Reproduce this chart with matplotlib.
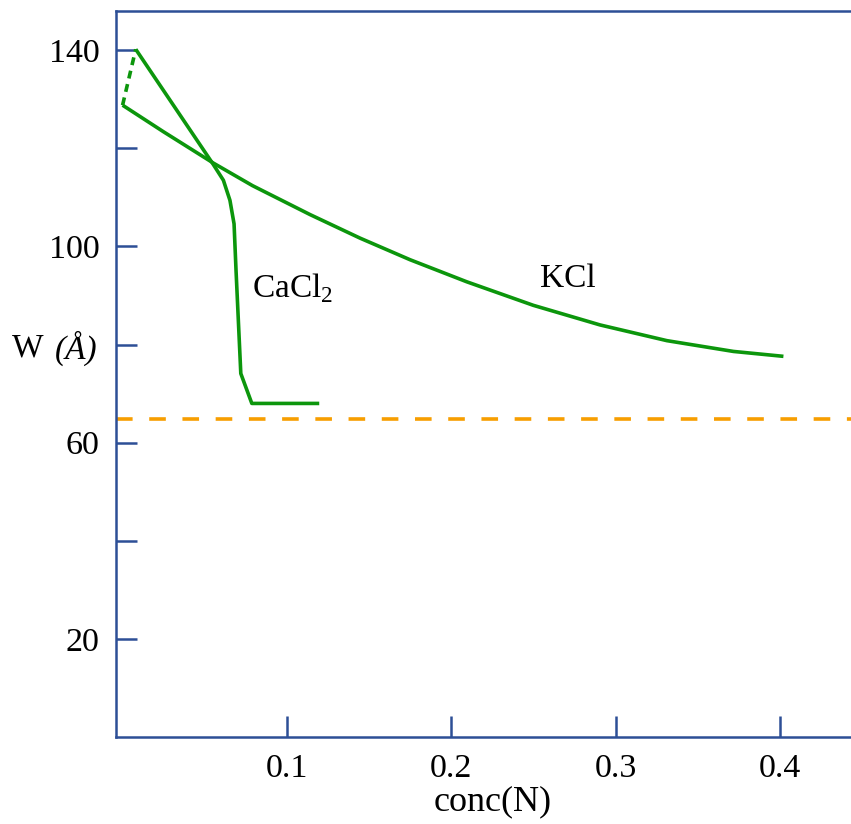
import matplotlib.pyplot as plt

kcl_x = [0.0, 0.0248, 0.0552, 0.079, 0.114, 0.1444, 0.1748, 0.2093, 0.2498, 0.2904, 0.331, 0.3715, 0.4019]
kcl_y = [128.8, 123.4, 117.0, 112.4, 106.5, 101.7, 97.3, 92.8, 88.0, 84.0, 80.8, 78.6, 77.6]

cacl_x = [0.008, 0.0552, 0.0613, 0.0653, 0.0678, 0.069, 0.0719, 0.0786, 0.1196]
cacl_y = [140.2, 116.7, 113.5, 109.4, 104.6, 95.1, 74.1, 68.0, 68.0]

# dashed start of the CaCl2 curve
cacl_dash_x = [0.0, 0.008]
cacl_dash_y = [128.8, 140.2]

limit_y = 64.8

yticks = [20, 40, 60, 80, 100, 120, 140]
ylabels = ["20", "", "60", "", "100", "", "140"]
xticks = [0.1, 0.2, 0.3, 0.4]
xlabels = ["0.1", "0.2", "0.3", "0.4"]

plt.rcParams['font.family'] = ['Liberation Serif', 'DejaVu Serif']
plt.rcParams['mathtext.fontset'] = 'custom'
plt.rcParams['mathtext.rm'] = 'Liberation Serif'

blue = "#2d4f96"
green = "#0c960c"
orange = "#f79e00"

fig = plt.figure(figsize=(8.51, 8.24), dpi=100)
ax = fig.add_axes([116 / 851, 1 - 737 / 824, 1 - 116 / 851, (737 - 11) / 824])

ax.plot(kcl_x, kcl_y, color=green, lw=2.6, solid_capstyle="butt", solid_joinstyle="round")
ax.plot(cacl_x, cacl_y, color=green, lw=2.6, solid_capstyle="butt", solid_joinstyle="round")
ax.plot(cacl_dash_x, cacl_dash_y, color=green, lw=2.6, dashes=(2.2, 1.6))
ax.axhline(limit_y, color=orange, lw=2.6, dashes=(4.6, 4.6))

ax.set_xlim(-0.004, 0.443)
ax.set_ylim(0, 148)

ax.set_yticks(yticks)
ax.set_yticklabels(ylabels)
ax.set_xticks(xticks)
ax.set_xticklabels(xlabels)
ax.tick_params(direction="in", length=15, width=1.8, color=blue, labelsize=24.5, pad=12)

ax.spines["right"].set_visible(False)
for s in ["left", "top", "bottom"]:
    ax.spines[s].set_color(blue)
    ax.spines[s].set_linewidth(1.8)

ax.set_xlabel("conc(N)", fontsize=26)
ax.xaxis.set_label_coords(0.512, -0.066, transform=ax.transAxes)
ax.xaxis.label.set_va("top")

ax.text(-0.141, 0.536, "W", fontsize=24, transform=ax.transAxes, ha="left", va="center")
ax.text(-0.083, 0.536, "(Å)", fontsize=24, style="italic", transform=ax.transAxes,
        ha="left", va="center")

ax.text(0.079, 91.6, "CaCl$_2$", fontsize=24, va="center", ha="left")
ax.text(0.254, 93.5, "KCl", fontsize=24, va="center", ha="left")

fig.savefig("out.png", dpi=100)
